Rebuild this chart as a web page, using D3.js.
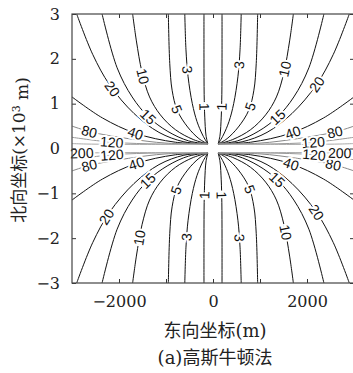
<!DOCTYPE html>
<html>
<head>
<meta charset="utf-8">
<script src="https://cdn.jsdelivr.net/npm/d3@7"></script>
<style>
  body { margin: 0; background: #fff; }
  svg { display: block; }
  .tick text { font-family: "DejaVu Serif", serif; font-size: 16px; fill: #222; }
  .clabel { font-family: "Liberation Sans", Arial, sans-serif; font-size: 14px; fill: #111;
            stroke: #fff; stroke-width: 4px; paint-order: stroke; }
  .title { font-family: "DejaVu Serif", "Noto Sans CJK SC", serif; fill: #222; }
</style>
</head>
<body>
<div id="viz"></div>
<script>
// contour levels and one quadrant of each line (x in m, y in 10^3 m),
// read off the picture; the plot is mirrored in both axes
var contourLevels = [1, 3, 5, 10, 15, 20, 40, 80, 120, 200];
var contourPaths = [
  [[110,0.1],[150,0.3],[175,0.7],[188,1.2],[192,2],[192,3.0]],
  [[110,0.1],[220,0.3],[340,0.6],[440,1.0],[530,1.6],[575,2.2],[600,3.0]],
  [[110,0.1],[300,0.22],[540,0.48],[760,0.85],[870,1.3],[920,1.9],[950,3.0]],
  [[110,0.1],[420,0.2],[800,0.42],[1120,0.75],[1350,1.15],[1510,1.7],[1630,2.4],[1710,3.0]],
  [[110,0.1],[520,0.17],[960,0.38],[1370,0.70],[1720,1.15],[2040,1.8],[2360,3.0]],
  [[110,0.1],[620,0.15],[1150,0.36],[1680,0.78],[2200,1.42],[2560,2.1],[2900,3.0]],
  [[110,0.1],[800,0.14],[1650,0.34],[2350,0.68],[3000,1.15]],
  [[110,0.1],[1000,0.12],[1800,0.22],[2600,0.37],[3000,0.5]],
  [[110,0.1],[1100,0.1],[2150,0.14],[3000,0.25]],
  [[110,0.1],[1400,0.09],[2700,0.1],[3000,0.11]]
];
var contourColors = ["#111","#111","#111","#111","#111","#111","#111","#888","#999","#aaa"];

// inline labels: level and approximate place
var labelLevel = [1, 3, 5, 10, 15, 20, 40, 80, 120,
                  1, 3, 5, 10, 15, 20, 40, 80, 120,
                  1, 3, 5, 10, 15, 20, 40, 80, 120, 200,
                  1, 3, 5, 10, 15, 20, 40, 80, 120, 200];
var labelX = [190, 617, 830, 1600, 1380, 2230, 1700, 2600, 2130,
              -190, -640, -810, -1510, -1400, -2230, -1660, -2640, -2150,
              -170, -530, -770, -1510, -1400, -2230, -1620, -2640, -2150, -2790,
              190, 510, 720, 1470, 1320, 2130, 1640, 2550, 2150, 2700];
var labelY = [0.93, 1.86, 0.93, 1.75, 0.70, 1.42, 0.35, 0.35, 0.12,
              0.93, 1.75, 0.86, 1.6, 0.68, 1.26, 0.30, 0.37, 0.14,
              -1.04, -1.97, -0.93, -2.0, -0.70, -1.55, -0.37, -0.35, -0.12, -0.1,
              -1.04, -2.0, -0.93, -1.89, -0.75, -1.48, -0.39, -0.41, -0.15, -0.1];

var xTicks = [-2000, -1000, 0, 1000, 2000];
var xTickLabels = [-2000, 0, 2000];
var yTicks = [-3, -2, -1, 0, 1, 2, 3];

var width = 353, height = 373;
var x = d3.scaleLinear().domain([-3000, 3000]).range([72, 354]);
var y = d3.scaleLinear().domain([-3, 3]).range([283, 14]);

var svg = d3.select("#viz").append("svg")
  .attr("width", width)
  .attr("height", height);

svg.append("clipPath").attr("id", "plot")
  .append("rect")
    .attr("x", x(-3000)).attr("y", y(3))
    .attr("width", x(3000) - x(-3000)).attr("height", y(-3) - y(3));

var line = d3.line()
  .x(function(d) { return x(d[0]); })
  .y(function(d) { return y(d[1]); })
  .curve(d3.curveCatmullRom.alpha(0.5));

var quads = [[1, 1], [-1, 1], [-1, -1], [1, -1]];
var lines = svg.append("g").attr("clip-path", "url(#plot)");
var pathNodes = {};

contourLevels.forEach(function(lv, i) {
  quads.forEach(function(q) {
    var pts = contourPaths[i].map(function(p) { return [p[0] * q[0], p[1] * q[1]]; });
    var p = lines.append("path")
      .datum(pts)
      .attr("d", line)
      .attr("fill", "none")
      .attr("stroke", contourColors[i])
      .attr("stroke-width", 1);
    pathNodes[lv + "_" + q[0] + "_" + q[1]] = p.node();
  });
});

// labels sit on the nearest point of their line, turned along it
var labels = svg.append("g");
labelLevel.forEach(function(lv, i) {
  var node = pathNodes[lv + "_" + (labelX[i] < 0 ? -1 : 1) + "_" + (labelY[i] < 0 ? -1 : 1)];
  var px = x(labelX[i]), py = y(labelY[i]);
  var total = node.getTotalLength(), best = 0, bestD = Infinity;
  for (var l = 0; l <= total; l += 0.5) {
    var pt = node.getPointAtLength(l);
    var dd = (pt.x - px) * (pt.x - px) + (pt.y - py) * (pt.y - py);
    if (dd < bestD) { bestD = dd; best = l; }
  }
  var a = node.getPointAtLength(Math.max(0, best - 3)),
      b = node.getPointAtLength(Math.min(total, best + 3)),
      c = node.getPointAtLength(best);
  var ang = Math.atan2(b.y - a.y, b.x - a.x) * 180 / Math.PI;
  if (ang > 90) ang -= 180;
  if (ang <= -90) ang += 180;
  labels.append("text")
    .attr("class", "clabel")
    .attr("text-anchor", "middle")
    .attr("dy", "0.36em")
    .attr("transform", "translate(" + c.x + "," + c.y + ") rotate(" + ang + ")")
    .text(lv);
});

// axes: ticks point inward on all four sides
var fmtX = function(d) { return xTickLabels.indexOf(d) >= 0 ? d3.format("")(d).replace("-", "\u2212") : ""; };

svg.append("g")
  .attr("transform", "translate(0," + y(-3) + ")")
  .call(d3.axisBottom(x).tickValues(xTicks).tickSizeInner(-4).tickSizeOuter(0).tickPadding(13).tickFormat(fmtX));
svg.append("g")
  .attr("transform", "translate(0," + y(3) + ")")
  .call(d3.axisTop(x).tickValues(xTicks).tickSizeInner(-4).tickSizeOuter(0).tickFormat(""));
svg.append("g")
  .attr("transform", "translate(" + x(-3000) + ",0)")
  .call(d3.axisLeft(y).tickValues(yTicks).tickSizeInner(-4).tickSizeOuter(0).tickPadding(12)
    .tickFormat(function(d) { return d < 0 ? "\u2212" + (-d) : d; }));
svg.append("g")
  .attr("transform", "translate(" + x(3000) + ",0)")
  .call(d3.axisRight(y).tickValues(yTicks).tickSizeInner(-4).tickSizeOuter(0).tickFormat(""));

svg.selectAll(".domain").remove();
svg.selectAll(".tick line").attr("stroke", "#333");

svg.append("rect")
  .attr("x", x(-3000)).attr("y", y(3))
  .attr("width", x(3000) - x(-3000)).attr("height", y(-3) - y(3))
  .attr("fill", "none")
  .attr("stroke", "#444")
  .attr("stroke-width", 1.2);

// titles
svg.append("text")
  .attr("class", "title")
  .attr("x", 215).attr("y", 337)
  .attr("text-anchor", "middle")
  .style("font-size", "18px")
  .text("东向坐标(m)");

svg.append("text")
  .attr("class", "title")
  .attr("x", 215).attr("y", 364)
  .attr("text-anchor", "middle")
  .style("font-size", "18px")
  .text("(a)高斯牛顿法");

var yl = svg.append("text")
  .attr("class", "title")
  .attr("transform", "translate(25,150) rotate(-90)")
  .attr("text-anchor", "middle")
  .style("font-size", "17px");
yl.append("tspan").text("北向坐标(×10");
yl.append("tspan").attr("dy", "-0.45em").style("font-size", "11px").text("3");
yl.append("tspan").attr("dy", "0.45em").text(" m)");
</script>
</body>
</html>
